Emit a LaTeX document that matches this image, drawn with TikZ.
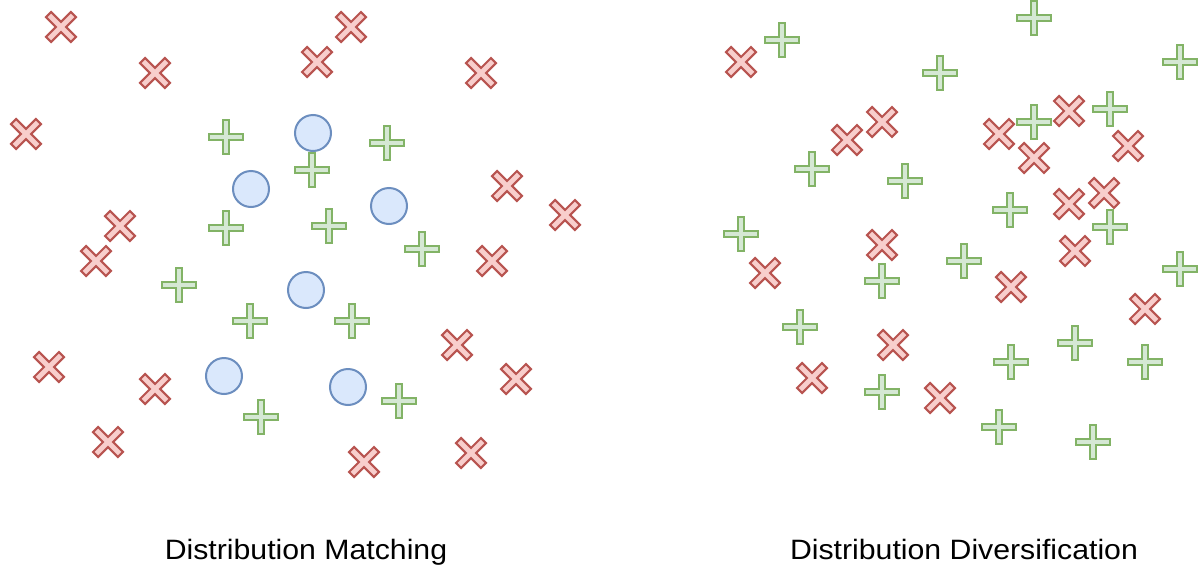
\documentclass[tikz,border=0pt]{standalone}
\usepackage{fontspec}
\setmainfont{Liberation Sans}
\definecolor{redfill}{HTML}{F8CECC}
\definecolor{redline}{HTML}{B85450}
\definecolor{greenfill}{HTML}{D5E8D4}
\definecolor{greenline}{HTML}{82B366}
\definecolor{bluefill}{HTML}{DAE8FC}
\definecolor{blueline}{HTML}{6C8EBF}
\tikzset{
  plusshape/.pic={
    \draw[line width=2pt, line join=miter, draw=greenline, fill=greenfill]
      (3.3,-17) -- (3.3,-3.3) -- (17,-3.3) -- (17,3.3) -- (3.3,3.3) -- (3.3,17)
      -- (-3.3,17) -- (-3.3,3.3) -- (-17,3.3) -- (-17,-3.3) -- (-3.3,-3.3) -- (-3.3,-17) -- cycle;
  },
  crossshape/.pic={
    \draw[rotate=45, line width=2pt, line join=miter, draw=redline, fill=redfill]
      (3.6,-17.6) -- (3.6,-3.6) -- (17.6,-3.6) -- (17.6,3.6) -- (3.6,3.6) -- (3.6,17.6)
      -- (-3.6,17.6) -- (-3.6,3.6) -- (-17.6,3.6) -- (-17.6,-3.6) -- (-3.6,-3.6) -- (-3.6,-17.6) -- cycle;
  },
  dot/.style={circle, draw=blueline, fill=bluefill, line width=2pt, minimum size=36pt, inner sep=0pt},
  caption/.style={font=\fontsize{28}{32}\selectfont, text=black, inner sep=0pt, anchor=base}
}
\begin{document}
\begin{tikzpicture}[x=1pt,y=-1pt]
\useasboundingbox[fill=white] (0,0) rectangle (1200,576);
% ---------- left panel ----------
\foreach \p in {(61,27),(155,73),(26,134),(120,226),(96,261),(351,27),(317,62),(481,73),
  (507,186),(565,215),(492,261),(49,367),(155,389),(108,442),(457,345),(516,379),(364,462),(471,453)}
  \pic at \p {crossshape};
\foreach \p in {(226,137),(387,143),(312,170),(226,228),(329,226),(422,249),(179,285),
  (250,321),(352,321),(261,417),(399,401)}
  \pic at \p {plusshape};
\node[dot] (c1) at (313,133) {};
\node[dot] (c2) at (251,189) {};
\node[dot] (c3) at (389,206) {};
\node[dot] (c4) at (306,290) {};
\node[dot] (c5) at (224,376) {};
\node[dot] (c6) at (348,387) {};
% ---------- right panel ----------
\foreach \p in {(741,62),(847,140),(882,122),(999,134),(1034,158),(1069,111),(1128,146),
  (1104,193),(1069,204),(882,245),(1075,251),(765,273),(1011,287),(1145,309),(893,345),
  (812,378),(940,398)}
  \pic at \p {crossshape};
\foreach \p in {(782,40),(1034,18),(940,73),(1180,62),(1110,109),(1034,122),(812,169),
  (905,181),(1010,210),(1110,227),(741,234),(964,261),(882,281),(1180,269),(800,327),
  (1075,343),(1011,362),(1145,362),(882,392),(999,427),(1093,442)}
  \pic at \p {plusshape};
% ---------- captions ----------
\node[caption] (lab1) at (306,559) {\scalebox{1.08}[1]{Distribution Matching}};
\node[caption] (lab2) at (964,559) {\scalebox{1.08}[1]{Distribution Diversification}};
\end{tikzpicture}
\end{document}
